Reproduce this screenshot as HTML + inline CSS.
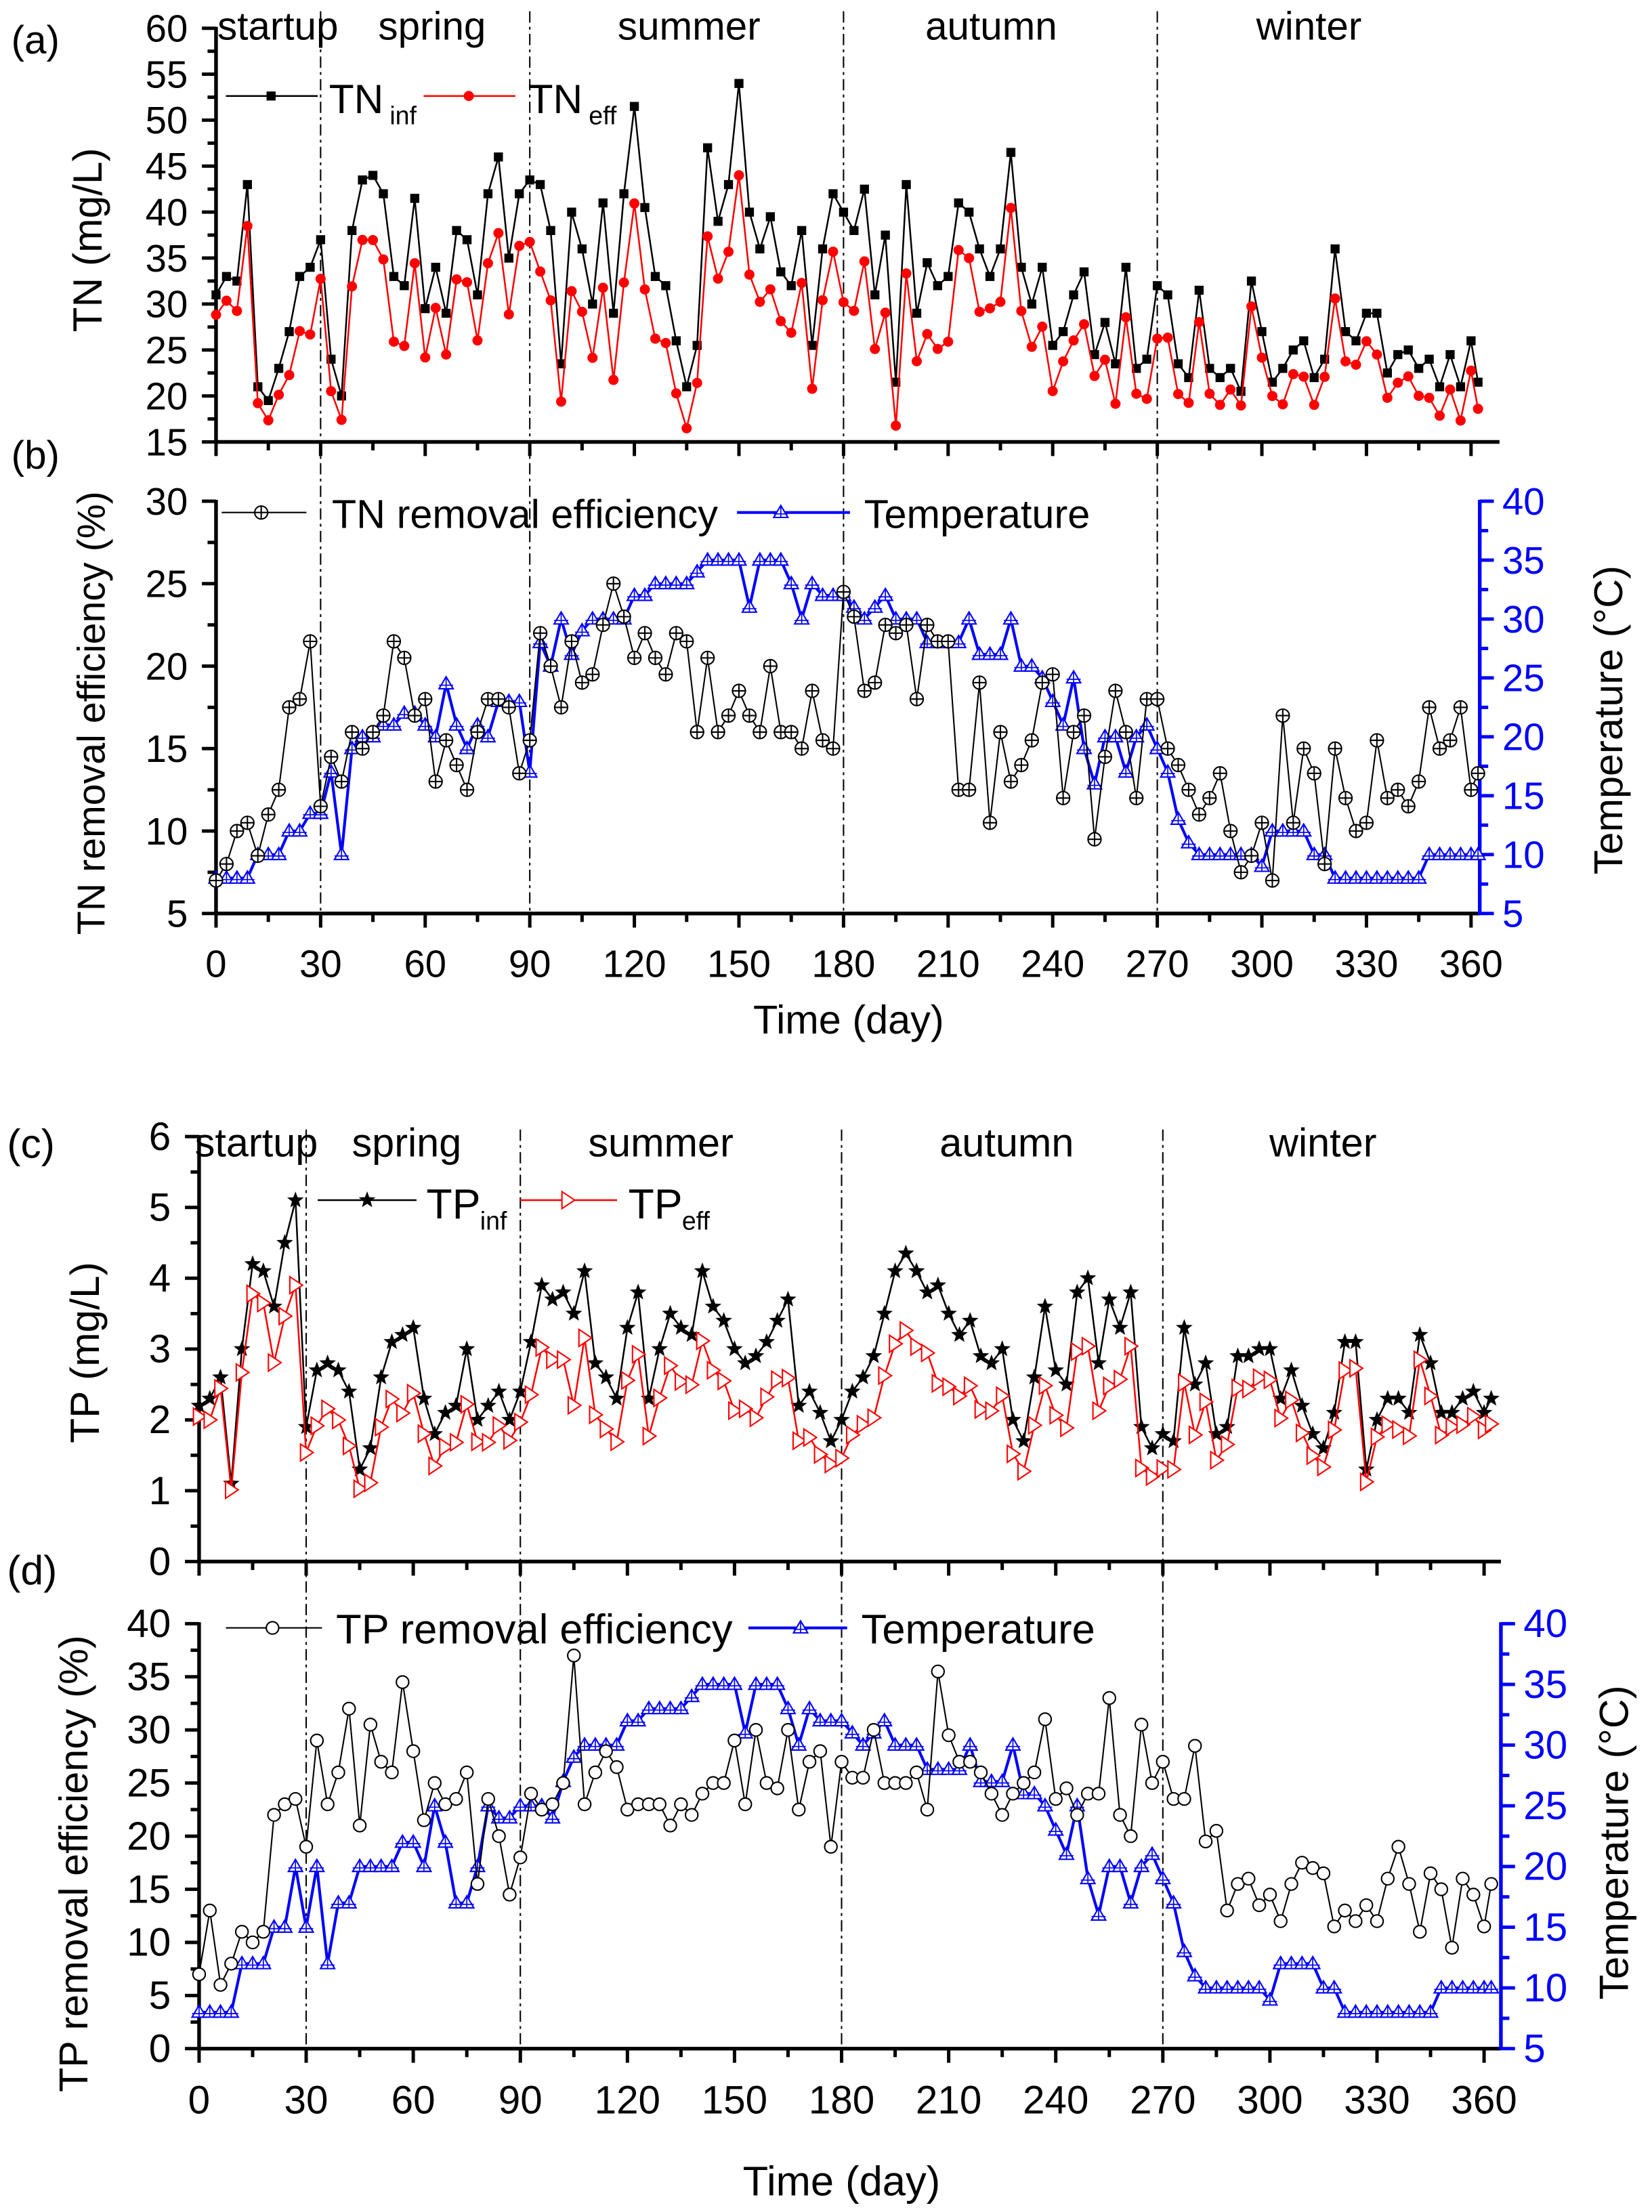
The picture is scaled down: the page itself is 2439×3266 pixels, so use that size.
<!DOCTYPE html>
<html><head><meta charset="utf-8"><style>
html,body{margin:0;padding:0;background:#fff;}
svg{display:block;}
text{font-family:"Liberation Sans",Arial,sans-serif;}
</style></head><body>
<svg id="s" xmlns="http://www.w3.org/2000/svg" width="2439" height="3266" viewBox="0 0 1170 1566.7" preserveAspectRatio="none"></svg>
<script>
const S=document.getElementById('s');let h='';
const days=[];for(let d=0;d<=360;d+=3)days.push(d);days.push(362);
const tnInf=[31,33,32.5,43,21,19.5,23,27,33,34,37,24,20,38,43.5,44,42,33,32,41.5,29.5,34,29,38,37,31,42,46,35,42,43.5,43,38,23.5,40,36,30,41,29,42,51.5,40.5,33,32,26,21,25.5,47,39,43,54,40,36,39.5,33.5,32,38,25.5,36,42,40,38,42.5,31,37.5,21.5,43,29,34.5,32,33,41,40,36,33,36,46.5,34,30,34,25.5,27,31,33.5,24.5,28,23.5,34,23,24,32,31,23.5,22,31.5,23,22,23,20.5,32.5,27,21.5,23,25,26,22,24,36,27,26,29,29,22.5,24.5,25,23,24,21,24.5,21,26,21.5];
const tnR=[7,8,10,10.5,8.5,11,12.5,17.5,18,21.5,11.5,14.5,13,16,15,16,17,21.5,20.5,17,18,13,15.5,14,12.5,16,18,18,17.5,13.5,15.5,22,20,17.5,21.5,19,19.5,22.5,25,23,20.5,22,20.5,19.5,22,21.5,16,20.5,16,17,18.5,17,16,20,16,16,15,18.5,15.5,15,24.5,23,18.5,19,22.5,22,22.5,18,22.5,21.5,21.5,12.5,12.5,19,10.5,16,13,14,15.5,19,19.5,12,16,17,9.5,14.5,18.5,16,12,18,18,15,14,12.5,11,12,13.5,10,7.5,8.5,10.5,7,17,10.5,15,13.5,8,15,12,10,10.5,15.5,12,12.5,11.5,13,17.5,15,15.5,17.5,12.5,13.5];
const temp=[8,8,8,8,10,10,10,12,12,13.5,13.5,17,10,19,20,20,21,21,22,22,21,20,24.5,21,19,21,20,23,23,23,17,28,26,30,27,29,30,30,30,30,32,32,33,33,33,33,34,35,35,35,35,31,35,35,35,33,30,33,32,32,32,31,30,31,32,30,30,30,28,28,28,28,30,27,27,27,30,26,26,25,23,21,25,19,16,20,20,17,20,21,19,17,13,11,10,10,10,10,10,10,9,12,12,12,12,10,10,8,8,8,8,8,8,8,8,8,10,10,10,10,10,10];
const tempD=temp.slice();
const early=[8,8,8,8,12,12,12,15,15,20,15,20,12,17,17,20,20,20,20,22,22,20,25,22,17,17,20,25,24,24,25,25,25,24,27];
early.forEach((v,i)=>tempD[i]=v);
const tpInf=[2.2,2.3,2.6,1.1,3,4.2,4.1,3.6,4.5,5.1,1.9,2.7,2.8,2.7,2.4,1.3,1.6,2.6,3.1,3.2,3.3,2.3,1.8,2.1,2.2,3.0,2.0,2.2,2.4,2.0,2.4,3.1,3.9,3.7,3.8,3.5,4.1,2.8,2.6,2.3,3.3,3.8,2.3,3.0,3.5,3.3,3.2,4.1,3.6,3.4,3.0,2.8,2.9,3.1,3.4,3.7,2.2,2.4,2.1,1.7,2.0,2.4,2.6,2.9,3.5,4.1,4.35,4.1,3.8,3.9,3.5,3.2,3.4,2.9,2.8,3.0,2.0,1.7,2.6,3.6,2.7,2.5,3.8,4.0,2.8,3.7,3.3,3.8,1.9,1.6,1.8,1.7,3.3,2.5,2.8,1.8,1.9,2.9,2.9,3.0,3.0,2.3,2.7,2.2,1.8,1.6,2.1,3.1,3.1,1.3,2.0,2.3,2.3,2.1,3.2,2.8,2.1,2.1,2.3,2.4,2.1,2.3];
const tpR=[7,13,6,8,11,10,11,22,23,23.5,19,29,23,26,32,21,30.5,27,26,34.5,28,21.5,25,23,23.5,26,15.5,23.5,20,14.5,18,24,22.5,23,25,37,23,26,28,26.5,22.5,23,23,23,21,23,22,24,25,25,29,23,30,25,24.5,30,22.5,27,28,19,27,25.5,25.5,30,25,25,25,26,22.5,35.5,29.5,27,27,26,24,22,24,25,26,31,23.5,24.5,22,24,24,33,22,20,30.5,25,27,23.5,23.5,28.5,19.5,20.5,13,15.5,16,13.5,14.5,12,15.5,17.5,17,16.5,11.5,13,12,13.5,12,16,19,15.5,11,16.5,15,9.5,16,14.5,11.5,15.5];
const tnEff=tnInf.map((v,i)=>v*(1-tnR[i]/100));
const tpEff=tpInf.map((v,i)=>v*(1-tpR[i]/100));
function L(x1,y1,x2,y2,c,w,extra){h+=`<line x1="${x1}" y1="${y1}" x2="${x2}" y2="${y2}" stroke="${c}" stroke-width="${w}" ${extra||''}/>`;}
function T(x,y,s,sz,c,anchor,extra){h+=`<text x="${x}" y="${y}" font-size="${sz}" fill="${c||'#000'}" text-anchor="${anchor||'start'}" ${extra||''}>${s}</text>`;}
function mk(type,x,y,c){
 if(type=='sq')h+=`<rect x="${x-3.2}" y="${y-3.2}" width="6.4" height="6.4" fill="${c}"/>`;
 else if(type=='dot')h+=`<circle cx="${x}" cy="${y}" r="3.6" fill="${c}"/>`;
 else if(type=='ocross')h+=`<circle cx="${x}" cy="${y}" r="4.6" fill="#fff" stroke="${c}" stroke-width="1"/><path d="M${x-4.6} ${y}H${x+4.6}M${x} ${y-4.6}V${y+4.6}" stroke="${c}" stroke-width="1"/>`;
 else if(type=='oc')h+=`<circle cx="${x}" cy="${y}" r="4.4" fill="#fff" stroke="${c}" stroke-width="1"/>`;
 else if(type=='tri')h+=`<path d="M${x} ${y-5}L${x+5} ${y+3.5}L${x-5} ${y+3.5}Z" fill="#fff" stroke="${c}" stroke-width="1"/><path d="M${x} ${y-5}V${y+3.5}M${x-5} ${y+1}H${x+5}" stroke="${c}" stroke-width="0.8"/>`;
 else if(type=='rtri')h+=`<path d="M${x-4} ${y-6}L${x+5} ${y}L${x-4} ${y+6}Z" fill="#fff" stroke="${c}" stroke-width="1"/>`;
 else if(type=='star'){let p='';for(let k=0;k<10;k++){const r=k%2?2.6:6.2,a=-Math.PI/2+k*Math.PI/5;p+=(k?'L':'M')+(x+r*Math.cos(a)).toFixed(2)+' '+(y+r*Math.sin(a)).toFixed(2);}h+=`<path d="${p}Z" fill="${c}"/>`;}
}
function series(vals,X,Y,c,w,type){const pts=vals.map((v,i)=>[X(days[i]),Y(v)]);h+=`<polyline points="${pts.map(p=>p[0].toFixed(1)+','+p[1].toFixed(1)).join(' ')}" fill="none" stroke="${c}" stroke-width="${w}"/>`;pts.forEach(p=>mk(type,p[0],p[1],c));}
function xaxis(x0,k,y,xend,labY,fs){L(x0,y,xend,y,'#000',2.6);for(let d=0;d<=360;d+=15){const x=x0+d*k;L(x,y,x,y+(d%30?6:10),'#000',2.4);if(labY&&d%30==0)T(x,labY,d,fs||27,'#000','middle');}}
function yaxis(x,ytop,ybot,vmin,vmax,maj,minr,c,right,fs){L(x,ytop-1,x,ybot+1,c,2.6);const sc=(ybot-ytop)/(vmax-vmin);for(let v=vmin;v<=vmax+1e-9;v+=minr){const y=ybot-(v-vmin)*sc;const isM=Math.abs((v-vmin)/maj-Math.round((v-vmin)/maj))<1e-6;const len=isM?10:6;L(x,y,right?x+len:x-len,y,c,2.4);if(isM)T(right?x+16:x-20,y+9.5,+v.toFixed(1),fs||27,c,right?'start':'end');}}
// ===== Panel a/b =====
const xa=d=>153+d*2.469;
const ya=v=>313-(v-15)*6.51;
const yb=v=>647-(v-5)*11.68;
const yt=v=>647-(v-5)*8.343;
[30,90,180,270].forEach(d=>L(xa(d),8,xa(d),655,'#000',1,'stroke-dasharray="8,3,2,3"'));
yaxis(153,20,313,15,60,5,2.5,'#000',false);
xaxis(153,2.469,313,1062,null);
series(tnInf,xa,ya,'#000',1.2,'sq');
series(tnEff,xa,ya,'#f00',1.2,'dot');
T(8,38,'(a)',28);T(8,332,'(b)',28);
T(154,28,'startup',28);T(306,28,'spring',28,'#000','middle');T(488,28,'summer',28,'#000','middle');T(702,28,'autumn',28,'#000','middle');T(927,28,'winter',28,'#000','middle');
L(160,68,225,68,'#000',1.2);mk('sq',192,68,'#000');T(233,80,'TN',29);T(276,88,'inf',18);
L(300,68,365,68,'#f00',1.2);mk('dot',332,68,'#f00');T(374,80,'TN',29);T(417,88,'eff',18);
h+=`<text transform="translate(72,170) rotate(-90)" font-size="29" text-anchor="middle">TN (mg/L)</text>`;
// b
yaxis(153,355,647,5,30,5,2.5,'#000',false);
xaxis(153,2.469,647,1048,692);
yaxis(1048,355,647,5,40,5,2.5,'#0000ff',true);
series(temp,xa,yt,'#0000ff',2,'tri');
series(tnR,xa,yb,'#000',1,'ocross');
L(157,363,217,363,'#000',1);mk('ocross',185,363,'#000');T(235,374,'TN removal efficiency',28.5);
L(522,363,602,363,'#0000ff',2);mk('tri',553,363,'#0000ff');T(612,374,'Temperature',28.5);
h+=`<text transform="translate(74,505) rotate(-90)" font-size="27.5" text-anchor="middle">TN removal efficiency (%)</text>`;
h+=`<text transform="translate(1149,510) rotate(-90)" font-size="28.5" text-anchor="middle">Temperature (°C)</text>`;
T(601,732,'Time (day)',28.5,'#000','middle');
// ===== Panel c/d =====
const xc=d=>141+d*2.528;
const yc=v=>1106-v*50.17;
const yd=v=>1451-v*7.525;
const ytd=v=>1451-(v-5)*8.6;
[30,90,180,270].forEach(d=>L(xc(d),800,xc(d),1451,'#000',1,'stroke-dasharray="8,3,2,3"'));
yaxis(141,805,1106,0,6,1,0.5,'#000',false,28);
xaxis(141,2.528,1106,1063,null);
series(tpInf,xc,yc,'#000',1.2,'star');
series(tpEff,xc,yc,'#f00',1.2,'rtri');
T(5,820,'(c)',29);T(5,1122,'(d)',29);
T(138,819,'startup',28.5);T(288,819,'spring',28.5,'#000','middle');T(468,819,'summer',28.5,'#000','middle');T(713,819,'autumn',28.5,'#000','middle');T(937,819,'winter',28.5,'#000','middle');
L(225,850,295,850,'#000',1.2);mk('star',260,850,'#000');T(302,863,'TP',30);T(340,871,'inf',18);
L(368,850,437,850,'#f00',1.2);mk('rtri',402,850,'#f00');T(445,863,'TP',30);T(483,871,'eff',18);
h+=`<text transform="translate(70,958) rotate(-90)" font-size="29" text-anchor="middle">TP (mg/L)</text>`;
yaxis(141,1150,1451,0,40,5,2.5,'#000',false,28);
xaxis(141,2.528,1451,1063,1497,28);
yaxis(1063,1150,1451,5,40,5,2.5,'#0000ff',true,28);
series(tempD,xc,ytd,'#0000ff',2,'tri');
series(tpR,xc,yd,'#000',1,'oc');
L(160,1153,228,1153,'#000',1);mk('oc',193,1153,'#000');T(238,1164,'TP removal efficiency',29.5);
L(530,1153,600,1153,'#0000ff',2);mk('tri',567,1153,'#0000ff');T(610,1164,'Temperature',29.5);
h+=`<text transform="translate(62,1320) rotate(-90)" font-size="28.5" text-anchor="middle">TP removal efficiency (%)</text>`;
h+=`<text transform="translate(1153,1305) rotate(-90)" font-size="29" text-anchor="middle">Temperature (°C)</text>`;
T(596,1555,'Time (day)',29.5,'#000','middle');
S.innerHTML=h;
</script>
</body></html>
